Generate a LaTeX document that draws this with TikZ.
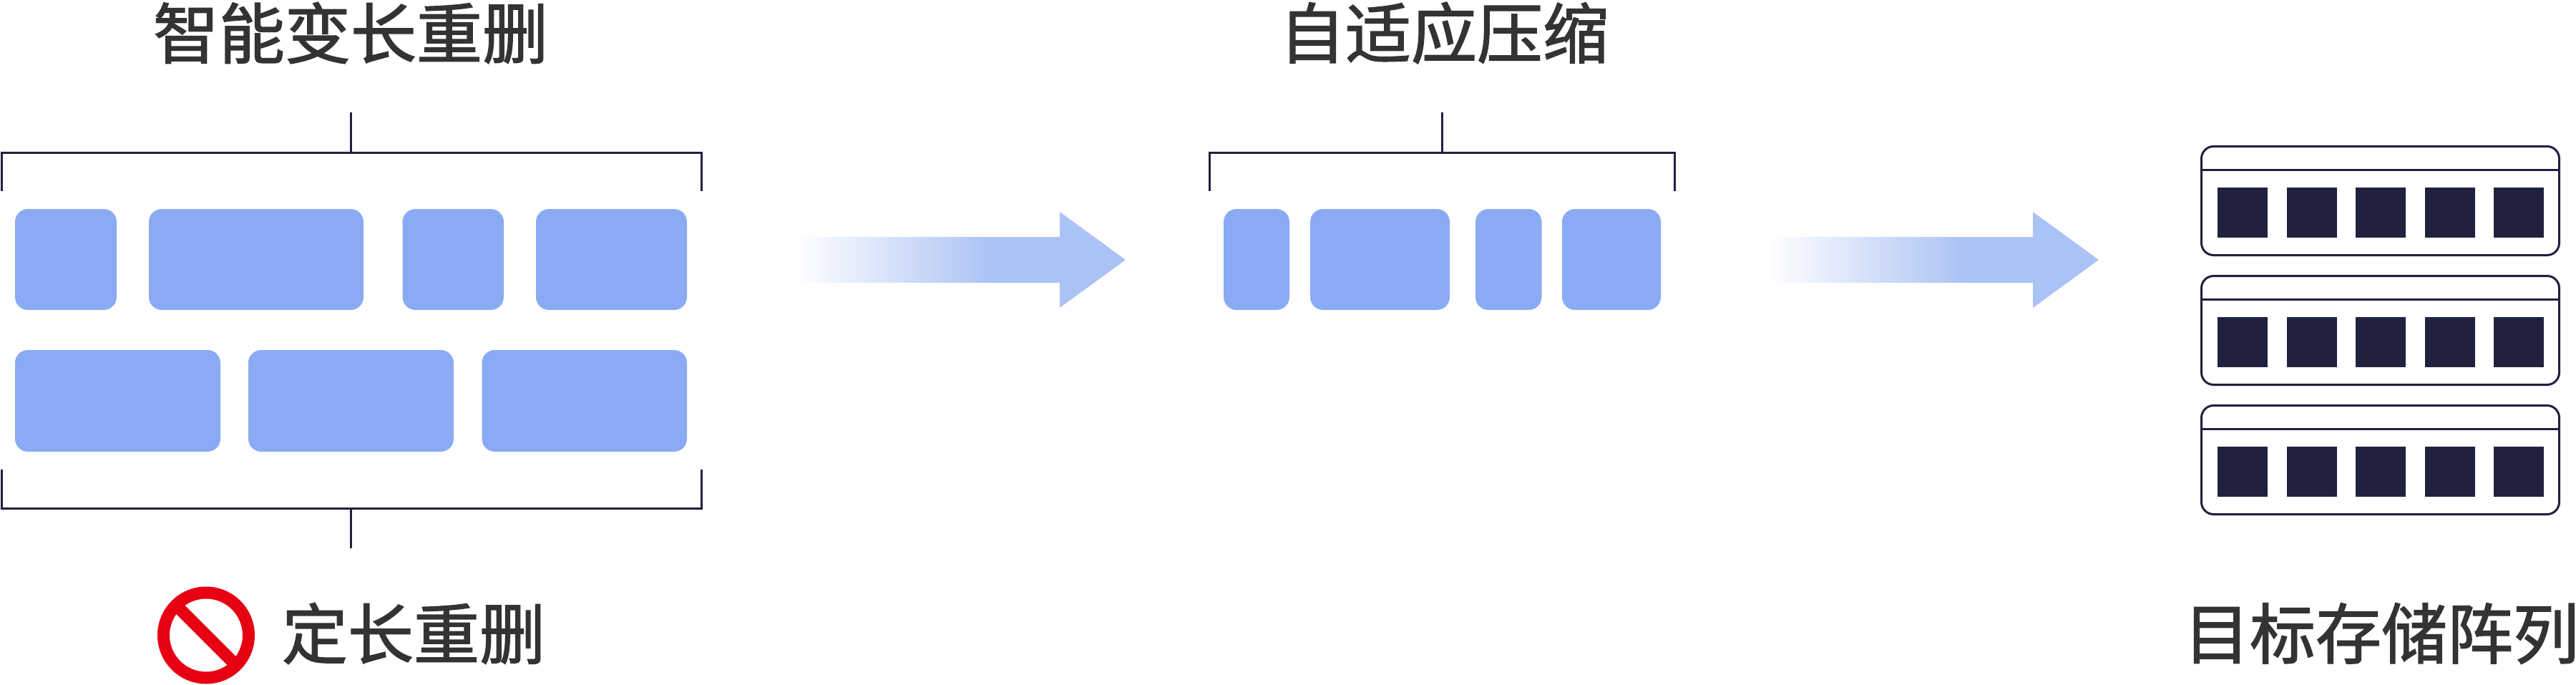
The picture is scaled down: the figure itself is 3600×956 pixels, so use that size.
\documentclass[tikz,border=0pt]{standalone}
\usepackage{fontspec}
\newfontfamily\cjk[FakeBold=1.6]{Noto Sans CJK SC}
\definecolor{inkdark}{HTML}{20213F}
\definecolor{blockblue}{HTML}{8AABF4}
\definecolor{arrowblue}{HTML}{ABC2F4}
\definecolor{textgrey}{HTML}{333333}
\definecolor{stopred}{HTML}{E60012}
\pgfdeclarehorizontalshading{arrowfade}{100bp}{color(0bp)=(white); color(25bp)=(white); color(55bp)=(arrowblue); color(100bp)=(arrowblue)}
\newcommand{\blockbox}[5]{\node[blockstyle,minimum width={(#3-#2)*1pt},minimum height={(#5-#4)*1pt}] (#1) at ({(#2+#3)/2},{(#4+#5)/2}) {};}
\tikzset{
  blockstyle/.style={draw=none,fill=blockblue,rounded corners=18pt,inner sep=0pt,outer sep=0pt},
  bracketline/.style={draw=inkdark,line width=3pt,line cap=butt,line join=miter},
  title/.style={font=\cjk\fontsize{92pt}{92pt}\selectfont,text=textgrey,inner sep=0pt,outer sep=0pt},
  rackbox/.style={draw=inkdark,line width=3pt,rounded corners=17pt,inner sep=0pt,outer sep=0pt,minimum width=500pt,minimum height=152pt},
  cellbox/.style={fill=inkdark,draw=none,inner sep=0pt,outer sep=0pt,minimum width=70pt,minimum height=70pt},
  fadearrow/.style={shading=arrowfade}
}
\begin{document}
\begin{tikzpicture}[x=1pt,y=-1pt]
\useasboundingbox (0,0) rectangle (3600,956);
% titles
\node[title] (t1) at (490,46) {智能变长重删};
\node[title] (t2) at (2018,46) {自适应压缩};
\node[title] (t3) at (578,885) {定长重删};
\node[title] (t4) at (3328,885) {目标存储阵列};
% top-left bracket
\coordinate (a1) at (2,267); \coordinate (a2) at (2,213); \coordinate (a3) at (980,213); \coordinate (a4) at (980,267);
\coordinate (a5) at (490,157); \coordinate (a6) at (490,213);
\draw[bracketline] (a1) -- (a2) -- (a3) -- (a4);
\draw[bracketline] (a5) -- (a6);
% bottom-left bracket
\coordinate (b1) at (2,656); \coordinate (b2) at (2,710); \coordinate (b3) at (980,710); \coordinate (b4) at (980,656);
\coordinate (b5) at (490,766); \coordinate (b6) at (490,710);
\draw[bracketline] (b1) -- (b2) -- (b3) -- (b4);
\draw[bracketline] (b5) -- (b6);
% middle bracket
\coordinate (c1) at (1690,267); \coordinate (c2) at (1690,213); \coordinate (c3) at (2340,213); \coordinate (c4) at (2340,267);
\coordinate (c5) at (2015,157); \coordinate (c6) at (2015,213);
\draw[bracketline] (c1) -- (c2) -- (c3) -- (c4);
\draw[bracketline] (c5) -- (c6);
% blocks
\blockbox{r1a}{21}{163}{292}{433}
\blockbox{r1b}{208}{508}{292}{433}
\blockbox{r1c}{562.5}{704}{292}{433}
\blockbox{r1d}{749}{960}{292}{433}
\blockbox{r2a}{21}{308}{489}{631}
\blockbox{r2b}{347}{634}{489}{631}
\blockbox{r2c}{673.5}{960}{489}{631}
\blockbox{m1}{1710}{1802}{292}{433}
\blockbox{m2}{1831}{2026}{292}{433}
\blockbox{m3}{2062}{2154.5}{292}{433}
\blockbox{m4}{2183}{2321}{292}{433}
% arrows
\path[fadearrow] (1110,331) -- (1481,331) -- (1481,296) -- (1573,363) -- (1481,430) -- (1481,395) -- (1110,395) -- cycle;
\path[fadearrow] (2470,331) -- (2841,331) -- (2841,296) -- (2933,363) -- (2841,430) -- (2841,395) -- (2470,395) -- cycle;
% prohibition sign
\node[draw=stopred,line width=17pt,circle,minimum size=119pt,inner sep=0pt,outer sep=0pt] (ban) at (288,887.5) {};
\coordinate (s1) at (246,845.5); \coordinate (s2) at (330,929.5);
\draw[stopred,line width=17pt] (s1) -- (s2);
% storage racks
\foreach \n/\yt in {1/203,2/384,3/565}{
  \node[rackbox] (rack\n) at (3326.5,{\yt+77.5}) {};
  \coordinate (dl\n) at (3076.5,{\yt+34});
  \coordinate (dr\n) at (3576.5,{\yt+34});
  \draw[bracketline] (dl\n) -- (dr\n);
  \foreach \k/\xl in {1/3099,2/3195.5,3/3292,4/3388.5,5/3485}{
    \node[cellbox] (cell\n\k) at ({\xl+35},{\yt+94}) {};
  }
}
\end{tikzpicture}
\end{document}
